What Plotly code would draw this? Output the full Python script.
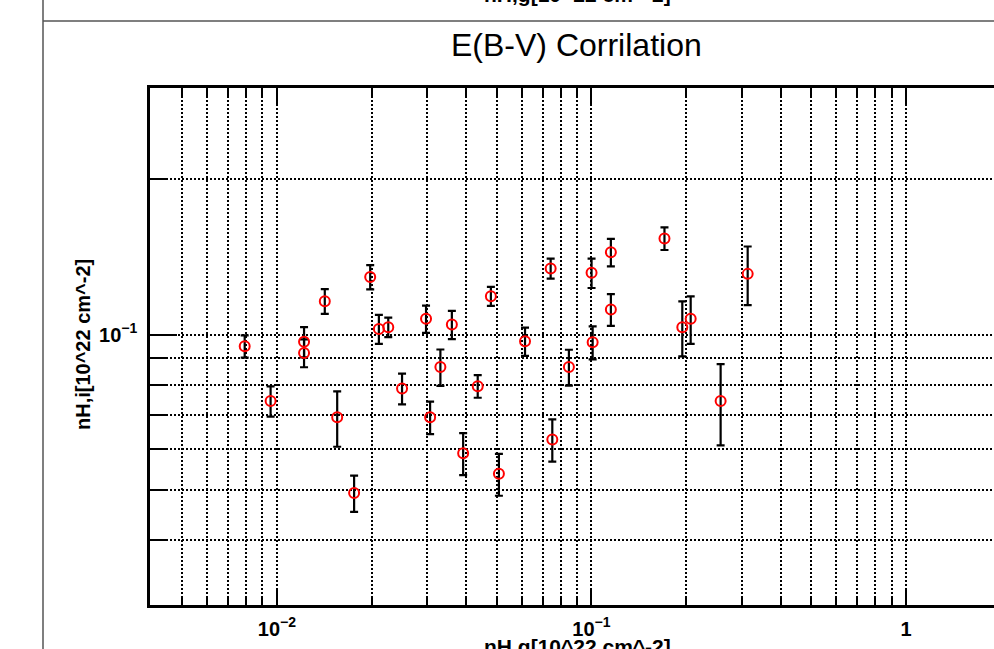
import math
import plotly.graph_objects as go

# ---------------- data ----------------
nh_g = [0.0079, 0.00955, 0.0122, 0.0122, 0.0142, 0.01555, 0.0176, 0.0198,
        0.0211, 0.0226, 0.0250, 0.0298, 0.0307, 0.0331, 0.0360, 0.0391,
        0.0435, 0.0479, 0.0508, 0.0615, 0.0742, 0.0751, 0.0848, 0.1001,
        0.1009, 0.1153, 0.1153, 0.1707, 0.1945, 0.2068, 0.2575, 0.3139]
nh_i = [0.0950, 0.0744, 0.0969, 0.0922, 0.1161, 0.0692, 0.0494, 0.1293,
        0.1026, 0.1034, 0.0787, 0.1073, 0.0692, 0.0866, 0.1046, 0.0590,
        0.0795, 0.1187, 0.0538, 0.0971, 0.1343, 0.0627, 0.0866, 0.1317,
        0.0967, 0.1444, 0.1119, 0.1535, 0.1034, 0.1073, 0.0744, 0.1311]
nh_i_err = [0.0047, 0.0050, 0.0065, 0.0057, 0.0064, 0.0085, 0.0040, 0.0070,
            0.0066, 0.0045, 0.0054, 0.0065, 0.0050, 0.0070, 0.0066, 0.0055,
            0.0040, 0.0050, 0.0050, 0.0061, 0.0060, 0.0059, 0.0069, 0.0086,
            0.0071, 0.0088, 0.0079, 0.0077, 0.0126, 0.0113, 0.0133, 0.0170]

x_limits = [0.00395, 1.905]
y_limits = [0.03, 0.3]
x_major = [0.01, 0.1, 1]
x_major_text = ["10<sup>\u22122</sup>", "10<sup>\u22121</sup>", "1"]
x_minor = [0.005, 0.006, 0.007, 0.008, 0.009,
           0.02, 0.03, 0.04, 0.05, 0.06, 0.07, 0.08, 0.09,
           0.2, 0.3, 0.4, 0.5, 0.6, 0.7, 0.8, 0.9]
y_major = [0.1]
y_major_text = ["10<sup>\u22121</sup>"]
y_minor = [0.04, 0.05, 0.06, 0.07, 0.08, 0.09, 0.2]

title_text = "E(B-V) Corrilation"
x_title = "nH,g[10^22 cm^-2]"
y_title = "nH,i[10^22 cm^-2]"

# ---------------- layout geometry ----------------
W, H = 994, 649
L, R, T, B = 150, 0, 88, 44
pw, ph = W - L - R, H - T - B


def px_x(p):
    return (p - L) / pw


def px_y(p):
    return (H - B - p) / ph


FONT = "Arial, 'Liberation Sans', sans-serif"
DOT = "2px,2px"
GW = 1.5

fig = go.Figure()
fig.add_trace(go.Scatter(
    x=nh_g, y=nh_i, mode="markers",
    marker=dict(symbol="circle-open", size=10, color="#ff0000",
                line=dict(width=2, color="#ff0000")),
    error_y=dict(type="data", array=nh_i_err, visible=True,
                 color="black", thickness=2.2, width=4),
    showlegend=False, hoverinfo="x+y",
))

fig.update_layout(
    width=W, height=H,
    margin=dict(l=L, r=R, t=T, b=B, pad=0),
    paper_bgcolor="white", plot_bgcolor="white",
    font=dict(family=FONT, color="black"),
    showlegend=False,
    xaxis=dict(
        type="log", range=[math.log10(x_limits[0]), math.log10(x_limits[1])],
        tickmode="array", tickvals=x_major, ticktext=x_major_text,
        ticks="inside", ticklen=17, tickwidth=2, tickcolor="black",
        showline=True, linewidth=2.5, linecolor="black", mirror="ticks",
        showgrid=True, gridcolor="black", gridwidth=GW, griddash=DOT,
        tickfont=dict(family=FONT, size=20, color="black", weight="bold"),
        ticklabelstandoff=4,
        zeroline=False,
        minor=dict(tickmode="array", tickvals=x_minor, ticks="inside",
                   ticklen=9, tickwidth=2, tickcolor="black",
                   showgrid=True, gridcolor="black", gridwidth=GW,
                   griddash=DOT),
    ),
    yaxis=dict(
        type="log", range=[math.log10(y_limits[0]), math.log10(y_limits[1])],
        tickmode="array", tickvals=y_major, ticktext=y_major_text,
        ticks="inside", ticklen=27, tickwidth=2, tickcolor="black",
        showline=True, linewidth=2.5, linecolor="black", mirror=False,
        showgrid=True, gridcolor="black", gridwidth=GW, griddash=DOT,
        tickfont=dict(family=FONT, size=20, color="black", weight="bold"),
        ticklabelstandoff=6,
        zeroline=False,
        minor=dict(tickmode="array", tickvals=y_minor, ticks="inside",
                   ticklen=16, tickwidth=2, tickcolor="black",
                   showgrid=True, gridcolor="black", gridwidth=GW,
                   griddash=DOT),
    ),
    yaxis2=dict(
        type="log", range=[math.log10(y_limits[0]), math.log10(y_limits[1])],
        overlaying="y", side="right", anchor="x",
        tickmode="array", tickvals=y_major, showticklabels=False,
        ticks="inside", ticklen=21, tickwidth=2, tickcolor="black",
        showline=False, showgrid=False, zeroline=False,
        minor=dict(tickmode="array", tickvals=y_minor, ticks="inside",
                   ticklen=7, tickwidth=2, tickcolor="black", showgrid=False),
    ),
)

annotations = [
    dict(text=title_text, x=px_x(576), y=px_y(45), xref="paper", yref="paper",
         xanchor="center", yanchor="middle", showarrow=False,
         font=dict(family=FONT, size=32, color="black")),
    dict(text=x_title, x=px_x(577), y=px_y(633), xref="paper", yref="paper",
         xanchor="center", yanchor="top", showarrow=False,
         font=dict(family=FONT, size=21, color="black", weight="bold")),
    dict(text=x_title, x=px_x(577), y=px_y(8), xref="paper", yref="paper",
         xanchor="center", yanchor="bottom", showarrow=False,
         font=dict(family=FONT, size=21, color="black", weight="bold")),
    dict(text=y_title, x=px_x(83), y=px_y(345), xref="paper", yref="paper",
         xanchor="center", yanchor="middle", showarrow=False, textangle=-90,
         font=dict(family=FONT, size=20, color="black", weight="bold")),
]
fig.update_layout(annotations=annotations)

fig.add_shape(type="line", xref="paper", yref="paper",
              x0=px_x(43), x1=px_x(43), y0=px_y(-2), y1=px_y(H + 2),
              line=dict(color="#555555", width=1.5))
fig.add_shape(type="line", xref="paper", yref="paper",
              x0=px_x(43), x1=px_x(W + 2), y0=px_y(21), y1=px_y(21),
              line=dict(color="#555555", width=1.5))

fig.write_html(
    "out.html",
    config={"displayModeBar": False},
    post_script="document.body.style.margin='0';"
                "document.body.style.overflow='hidden';",
)
